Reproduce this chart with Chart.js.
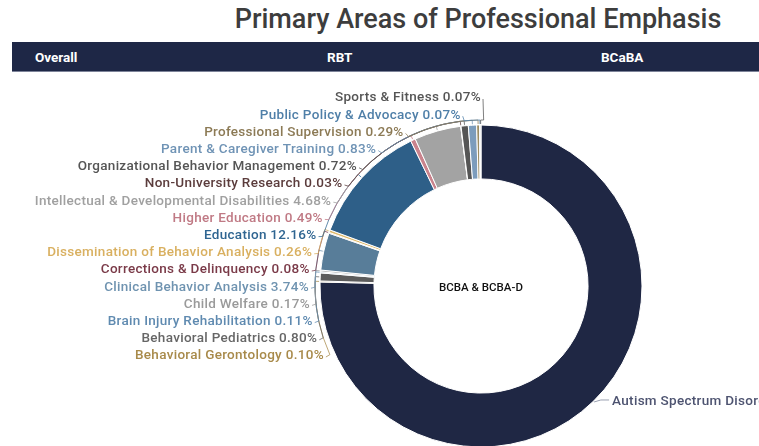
<!DOCTYPE html>
<html>
<head>
<meta charset="utf-8">
<script src="https://cdn.jsdelivr.net/npm/chart.js@4.4.0/dist/chart.umd.min.js"></script>
<style>
  body { margin: 0; background: #fff; width: 759px; height: 446px; overflow: hidden; position: relative; font-family: Roboto, sans-serif; }
  #title { position: absolute; top: 3px; left: 478px; transform: translateX(-50%); white-space: nowrap;
           font-size: 27px; font-weight: 500; color: #3d3d3d; letter-spacing: 0px; }
  #tabs { position: absolute; top: 42px; left: 12px; right: 0; height: 29px; background: #1e2746;
          border-bottom: 1px solid #7d8399; color: #fff; font-size: 13.5px; font-weight: 700; }
  #tabs span { position: absolute; top: 7px; }
  #wrap { position: absolute; top: 0; left: 0; width: 759px; height: 470px; }
</style>
</head>
<body>
<div id="title">Primary Areas of Professional Emphasis</div>
<div id="tabs">
  <span style="left:23px">Overall</span>
  <span style="left:315px">RBT</span>
  <span style="left:589px">BCaBA</span>
</div>
<div id="wrap"><canvas id="chart" width="759" height="470"></canvas></div>
<script>
// ─── Data (alphabetical, as in the source) ─────────────────────────────────────
const categories = [
  'Autism Spectrum Disorder',
  'Behavioral Gerontology',
  'Behavioral Pediatrics',
  'Brain Injury Rehabilitation',
  'Child Welfare',
  'Clinical Behavior Analysis',
  'Corrections & Delinquency',
  'Dissemination of Behavior Analysis',
  'Education',
  'Higher Education',
  'Intellectual & Developmental Disabilities',
  'Non-University Research',
  'Organizational Behavior Management',
  'Parent & Caregiver Training',
  'Professional Supervision',
  'Public Policy & Advocacy',
  'Sports & Fitness',
];
const shares = [75.40, 0.10, 0.80, 0.11, 0.17, 3.74, 0.08, 0.26, 12.16, 0.49, 4.68, 0.03, 0.72, 0.83, 0.29, 0.07, 0.07];

const sliceColors = [
  '#1f2744', '#b09558', '#5c5c5c', '#6a8fb2', '#a9a9a9', '#587d99', '#7b3d4a', '#e0bb6c',
  '#2e5f88', '#c9838d', '#a3a3a3', '#6b3b3b', '#555555', '#7c9cbc', '#9c8c62', '#5585ae', '#666666',
];
const labelColors = [
  '#4d5370', '#a88a4a', '#666666', '#5f8ab0', '#9a9a9a', '#6f93b0', '#7a3a48', '#d9b060',
  '#2f6591', '#c07a85', '#a0a0a0', '#5b3c3c', '#555555', '#6f93b5', '#8c7a55', '#4f7fa8', '#555555',
];

const centerText = 'BCBA & BCBA-D';

// ─── Labels with leader lines ─────────────────────────────────────────────────
const labelPlugin = {
  id: 'sideLabels',
  afterDraw(chart) {
    const ctx  = chart.ctx;
    const meta = chart.getDatasetMeta(0);
    const first = meta.data[0];
    const cx = first.x, cy = first.y, outer = first.outerRadius;
    const rLabel = 172, rLead = outer + 5;
    const TWO_PI = Math.PI * 2;
    const norm = a => ((a % TWO_PI) + TWO_PI) % TWO_PI;
    const labelFont = '500 13.5px Roboto';

    ctx.save();
    ctx.textBaseline = 'middle';
    ctx.lineWidth = 1;

    // centre caption
    ctx.fillStyle = '#111';
    ctx.textAlign = 'center';
    ctx.font = '500 11.5px Roboto';
    ctx.fillText(centerText, cx, cy + 2);

    ctx.font = labelFont;
    ctx.letterSpacing = '0.3px';

    // small slices: stacked column on the left
    ctx.textAlign = 'right';
    for (let i = 1; i < categories.length; i++) {
      const y  = cy + 70 - (i - 1) * 17.2;
      const dy = y - cy;
      const x  = cx - Math.sqrt(Math.max(0, rLabel * rLabel - dy * dy));
      ctx.fillStyle = labelColors[i];
      ctx.fillText(`${categories[i]} ${shares[i].toFixed(2)}%`, x, y);

      const arc = meta.data[i];
      const mid = norm((arc.startAngle + arc.endAngle) / 2);
      const a1  = norm(Math.atan2(dy, x + 3 - cx));
      ctx.strokeStyle = labelColors[i];
      ctx.globalAlpha = 0.75;
      ctx.beginPath();
      ctx.moveTo(x + 2, y + 1);
      ctx.lineTo(cx + rLead * Math.cos(a1), cy + rLead * Math.sin(a1));
      ctx.arc(cx, cy, rLead, a1, mid, mid < a1);
      ctx.lineTo(cx + (outer + 1) * Math.cos(mid), cy + (outer + 1) * Math.sin(mid));
      ctx.stroke();
      ctx.globalAlpha = 1;
    }

    // big slice: label on the right
    const big = meta.data[0];
    const bm  = (big.startAngle + big.endAngle) / 2;
    const px  = cx + (outer + 1) * Math.cos(bm), py = cy + (outer + 1) * Math.sin(bm);
    ctx.strokeStyle = '#9aa0b0';
    ctx.beginPath();
    ctx.moveTo(px, py);
    ctx.quadraticCurveTo(px + 6, py - 3, px + 15, py - 2);
    ctx.stroke();
    ctx.textAlign = 'left';
    ctx.fillStyle = labelColors[0];
    ctx.fillText(`${categories[0]} ${shares[0].toFixed(2)}%`, px + 18, py);
    ctx.restore();
  },
};

new Chart(document.getElementById('chart'), {
  type: 'doughnut',
  data: {
    labels: categories,
    datasets: [{
      data: shares,
      backgroundColor: sliceColors,
      borderColor: '#ffffff',
      borderWidth: 1,
    }],
  },
  options: {
    responsive: false,
    animation: false,
    devicePixelRatio: 1,
    radius: 161,
    cutout: '66.5%',
    layout: { padding: { left: 320, right: 117, top: 125, bottom: 23 } },
    plugins: {
      legend:  { display: false },
      tooltip: { enabled: false },
      title:   { display: false },
    },
  },
  plugins: [labelPlugin],
});
</script>
</body>
</html>
